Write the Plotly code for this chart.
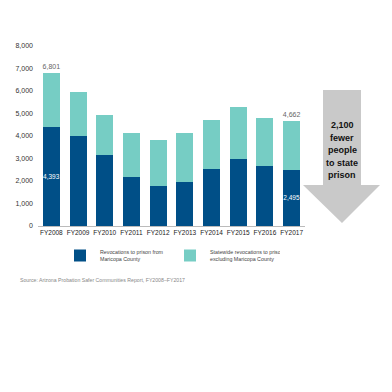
import plotly.graph_objects as go

years = ["FY2008", "FY2009", "FY2010", "FY2011", "FY2012", "FY2013", "FY2014", "FY2015", "FY2016", "FY2017"]
maricopa = [4393, 4010, 3140, 2195, 1780, 1955, 2550, 2995, 2655, 2495]
statewide_excl = [2408, 1950, 1790, 1955, 2030, 2165, 2180, 2280, 2160, 2167]
maricopa_labels = ["4,393", "", "", "", "", "", "", "", "", "2,495"]
total_labels = ["6,801", "", "", "", "", "", "", "", "", "4,662"]
y_ticks = [0, 1000, 2000, 3000, 4000, 5000, 6000, 7000, 8000]
y_tick_text = ["0", "1,000", "2,000", "3,000", "4,000", "5,000", "6,000", "7,000", "8,000"]
arrow_lines = ["2,100", "fewer", "people", "to state", "prison"]

FONT = "Arial, 'Liberation Sans', sans-serif"
DARK = "#004f87"
TEAL = "#76cdc4"

# page body has an 8px margin: figure is 384x384 at (8,8)
OFF = 8
SIZE = 384
L, R, T, B = 30, 87, 38, 166
W = SIZE - L - R
H = SIZE - T - B

def px(x):  # reference screen px -> paper
    return (x - OFF - L) / W

def py(y):
    return (SIZE - B - (y - OFF)) / H

fig = go.Figure()
fig.add_trace(go.Bar(
    x=years, y=maricopa, name="Revocations to prison from<br>Maricopa County",
    marker=dict(color=DARK, line=dict(width=0)),
    text=maricopa_labels, textposition="inside", insidetextanchor="middle",
    constraintext="none",
    textfont=dict(color="white", size=6.5, family=FONT), textangle=0,
))
fig.add_trace(go.Bar(
    x=years, y=statewide_excl, name="Statewide revocations to prison,<br>excluding Maricopa County",
    marker=dict(color=TEAL, line=dict(width=0)),
    text=total_labels, textposition="outside", cliponaxis=False, constraintext="none",
    textfont=dict(color="#666666", size=7, family=FONT), textangle=0,
))

arrow = [(323, 90), (361, 90), (361, 185), (380, 185), (342, 223), (303, 185), (323, 185)]
path = "M " + " L ".join(f"{px(x):.4f},{py(y):.4f}" for x, y in arrow) + " Z"

annotations = []
for i, line in enumerate(arrow_lines):
    annotations.append(dict(
        text=f"<b>{line}</b>", xref="paper", yref="paper",
        x=px(342), y=py(125 + 12.5 * i), xanchor="center", yanchor="middle",
        showarrow=False, font=dict(size=9, color="#111111", family=FONT),
    ))
annotations.append(dict(
    text="Source: Arizona Probation Safer Communities Report, FY2008–FY2017",
    xref="paper", yref="paper", x=px(18), y=py(280),
    xanchor="left", yanchor="middle", showarrow=False,
    font=dict(size=5.2, color="#888888", family=FONT),
))

fig.update_layout(
    barmode="stack",
    bargap=0.36,
    width=SIZE, height=SIZE,
    margin=dict(l=L, r=R, t=T, b=B, autoexpand=False),
    paper_bgcolor="white", plot_bgcolor="white",
    font=dict(family=FONT, color="#333333"),
    xaxis=dict(
        showline=True, linecolor="#bbbbbb", linewidth=1, ticks="",
        tickfont=dict(size=6.5, color="#222222"), showgrid=False, automargin=False,
    ),
    yaxis=dict(
        range=[0, 8000], tickvals=y_ticks, ticktext=y_tick_text,
        showgrid=False, zeroline=False, showline=False, automargin=False,
        tickfont=dict(size=7, color="#333333"), ticklabelstandoff=4,
    ),
    legend=dict(
        orientation="h", x=px(60), xanchor="left", y=py(241), yanchor="top",
        font=dict(size=5.3, color="#444444"), itemwidth=30,
        entrywidth=65, entrywidthmode="pixels", traceorder="normal",
        bgcolor="rgba(0,0,0,0)",
    ),
    shapes=[dict(
        type="path", xref="paper", yref="paper", path=path,
        fillcolor="#c9c9c9", line=dict(width=0), layer="below",
    )],
    annotations=annotations,
)

fig.write_html("out.html")
